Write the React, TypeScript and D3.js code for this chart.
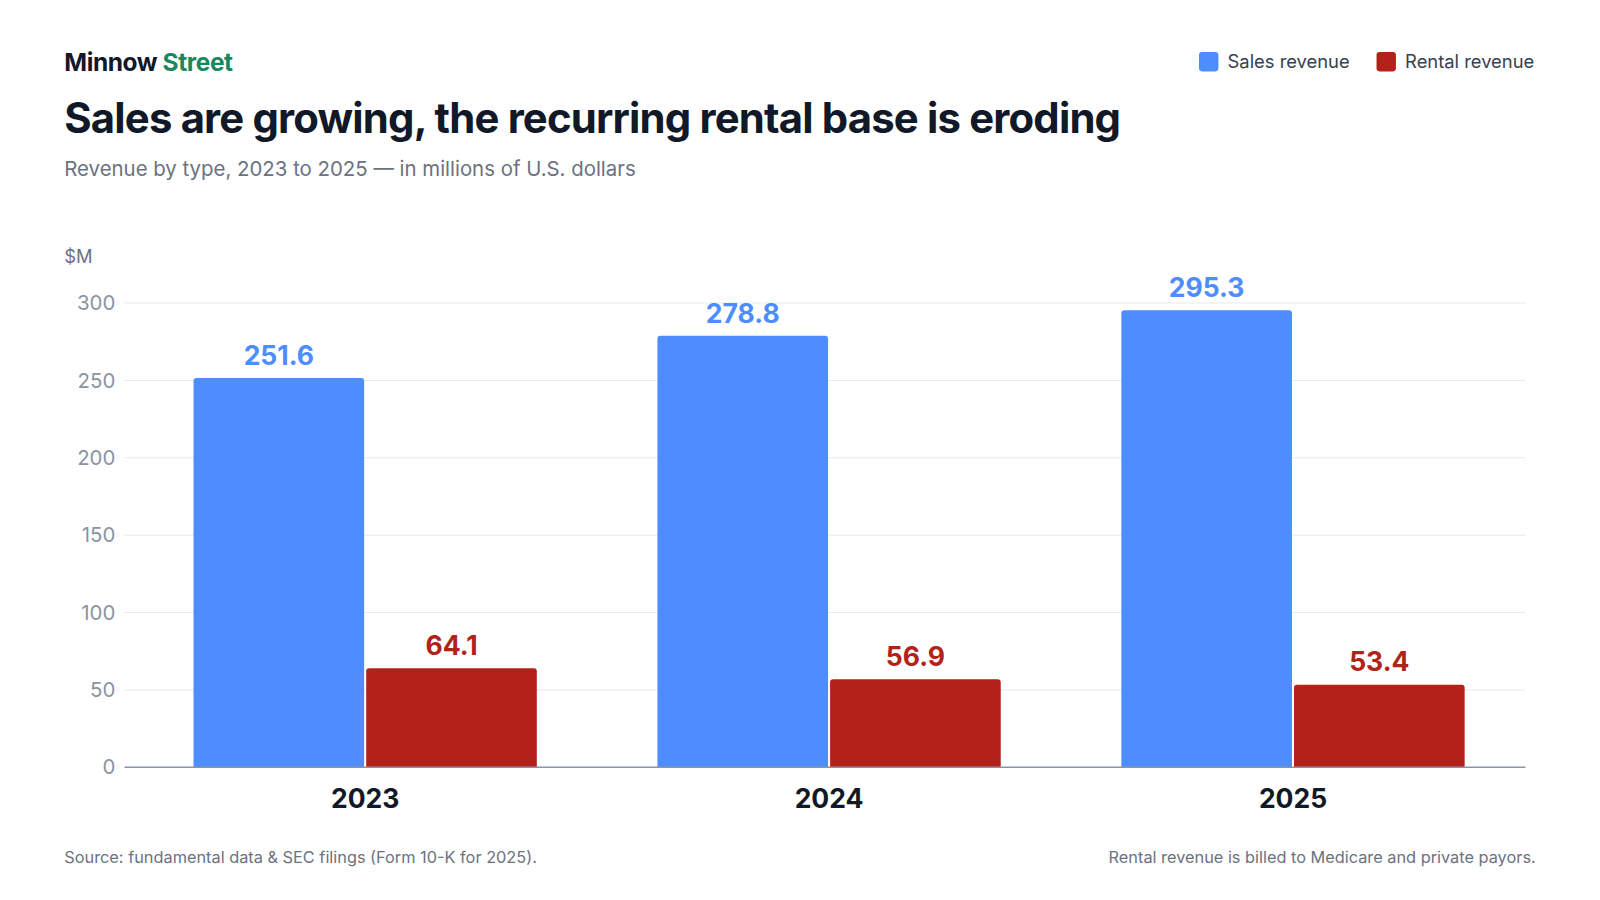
import * as d3 from "d3";

const years = ["2023", "2024", "2025"];
const sales = [251.6, 278.8, 295.3];
const rental = [64.1, 56.9, 53.4];
const yTicks = [0, 50, 100, 150, 200, 250, 300];

const W = 1600;
const H = 900;
// layout was measured on a 1568-wide preview, so the whole drawing is scaled up
const S = 1600 / 1568;
const LEFT = 122;
const RIGHT = 1495;
const TOP = 297;
const BOTTOM = 752;
const BLUE = "#4d8dff";
const RED = "#b22218";
const FONT = "Inter, 'Noto Sans', sans-serif";

export default function App() {
	// bars sit a touch right of the plot centre in the original
	const x = d3.scaleBand<string>().domain(years).range([LEFT + 4, RIGHT + 4]).paddingInner(0.26).paddingOuter(0.14);
	const y = d3.scaleLinear().domain([0, 300]).range([BOTTOM, TOP]);
	const bw = x.bandwidth();
	const half = (bw - 2) / 2;

	return (
		<svg width={W} height={H} style={{ position: "absolute", left: 0, top: 0, fontFamily: FONT }}>
			<rect width={W} height={H} fill="#fff" />
			<g transform={`scale(${S})`}>
				<text x={63} y={70} fontSize={24} fontWeight={700} fill="#111827" letterSpacing={-0.4}>
					Minnow <tspan fill="#17875d">Street</tspan>
				</text>
				<text x={63} y={130} fontSize={41} fontWeight={700} fill="#111827" letterSpacing={-0.8}>
					Sales are growing, the recurring rental base is eroding
				</text>
				<text x={63} y={172} fontSize={20} fill="#6b7280">
					Revenue by type, 2023 to 2025 — in millions of U.S. dollars
				</text>
				{/* legend */}
				<rect x={1175} y={51} width={19} height={19} rx={3} fill={BLUE} />
				<text x={1203} y={67} fontSize={18} fill="#374151">Sales revenue</text>
				<rect x={1349} y={51} width={19} height={19} rx={3} fill={RED} />
				<text x={1377} y={67} fontSize={18} fill="#374151">Rental revenue</text>

				<text x={63} y={258} fontSize={18} fill="#6b7280">$M</text>
				{yTicks.map((t) => (
					<g key={t}>
						{t > 0 && <line x1={LEFT} x2={RIGHT} y1={y(t)} y2={y(t)} stroke="#e8eaee" />}
						<text x={113} y={y(t)} dy="0.35em" textAnchor="end" fontSize={20} fill="#8b93a1">
							{t}
						</text>
					</g>
				))}
				{years.map((yr, i) => {
					const x0 = x(yr)!;
					return (
						<g key={yr}>
							<path d={`M${x0},${BOTTOM}V${y(sales[i]) + 3}q0,-3 3,-3H${x0 + half - 3}q3,0 3,3V${BOTTOM}Z`} fill={BLUE} />
							<path d={`M${x0 + half + 2},${BOTTOM}V${y(rental[i]) + 3}q0,-3 3,-3H${x0 + bw - 3}q3,0 3,3V${BOTTOM}Z`} fill={RED} />
							<text x={x0 + half / 2} y={y(sales[i]) - 13} textAnchor="middle" fontSize={26} fontWeight={700} fill={BLUE}>
								{sales[i].toFixed(1)}
							</text>
							<text x={x0 + half + 2 + half / 2} y={y(rental[i]) - 13} textAnchor="middle" fontSize={26} fontWeight={700} fill={RED}>
								{rental[i].toFixed(1)}
							</text>
							<text x={x0 + bw / 2} y={792} textAnchor="middle" fontSize={26} fontWeight={700} fill="#111827">
								{yr}
							</text>
						</g>
					);
				})}
				<line x1={LEFT} x2={RIGHT} y1={BOTTOM} y2={BOTTOM} stroke="#8b93a8" strokeWidth={1.5} />
				<text x={63} y={846} fontSize={16} fill="#6b7280">Source: fundamental data &amp; SEC filings (Form 10-K for 2025).</text>
				<text x={1505} y={846} textAnchor="end" fontSize={16} fill="#6b7280">Rental revenue is billed to Medicare and private payors.</text>
			</g>
		</svg>
	);
}
